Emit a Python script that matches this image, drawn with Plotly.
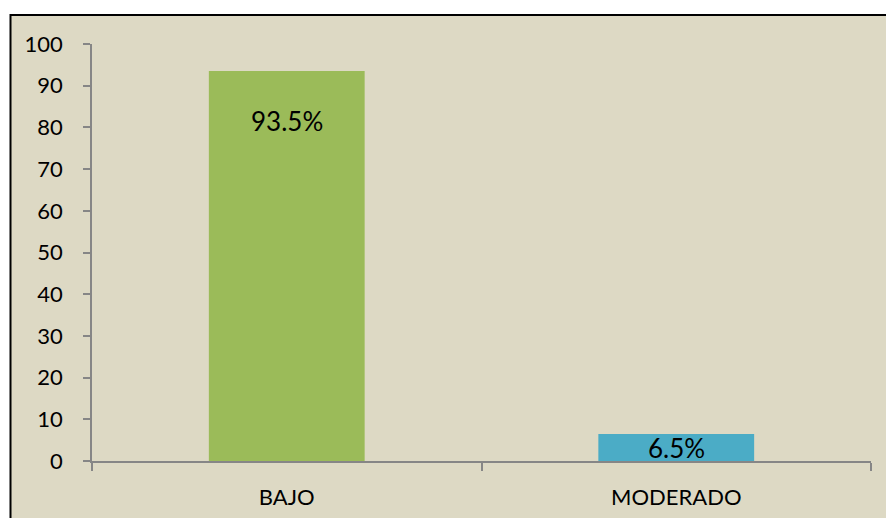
import plotly.graph_objects as go

categories = ["BAJO", "MODERADO"]
values = [93.5, 6.5]
labels = ["93.5%", "6.5%"]
bar_colors = ["#9BBB59", "#4BACC6"]
y_ticks = [0, 10, 20, 30, 40, 50, 60, 70, 80, 90, 100]

# styling: vertical pixel offset of each value label from the bar top
label_shift_px = [-50, -14]

W, H = 886, 518
ml, mr, mt, mb = 92, 15, 44, 57
pw, ph = W - ml - mr, H - mt - mb

fig = go.Figure()
fig.add_trace(go.Bar(
    x=categories, y=values,
    marker=dict(color=bar_colors, line=dict(width=0)),
    width=0.4, hoverinfo="skip",
))

for c, v, t, s in zip(categories, values, labels, label_shift_px):
    fig.add_annotation(x=c, y=v, text=t, showarrow=False, yshift=s,
                       yanchor="middle", xanchor="center",
                       font=dict(family="Lato", size=26, color="black"))

# beige chart background with black frame (extends past right/bottom edges)
def px_to_paper_x(px):
    return (px - ml) / pw

def px_to_paper_y(py):
    return (H - mb - py) / ph

fig.add_shape(type="rect", xref="paper", yref="paper", layer="below",
              x0=px_to_paper_x(10.5), x1=px_to_paper_x(W + 10),
              y0=px_to_paper_y(H + 10), y1=px_to_paper_y(15),
              fillcolor="#DDD9C4", line=dict(color="black", width=2))

fig.update_layout(
    width=W, height=H,
    margin=dict(l=ml, r=mr, t=mt, b=mb),
    paper_bgcolor="white", plot_bgcolor="rgba(0,0,0,0)",
    showlegend=False,
    font=dict(family="Lato", size=22, color="black"),
    xaxis=dict(
        type="category", tickson="boundaries", ticks="outside", ticklen=8,
        tickcolor="#868686", tickwidth=1.5,
        showline=True, linecolor="#868686", linewidth=1.5,
        showgrid=False, zeroline=False, automargin=False,
        tickfont=dict(family="Lato", size=22, color="black"),
        ticklabelstandoff=16, range=[-0.5, 1.5],
    ),
    yaxis=dict(
        range=[0, 100], tickvals=y_ticks, ticks="outside", ticklen=7,
        tickcolor="#868686", tickwidth=1.5,
        showline=True, linecolor="#868686", linewidth=1.5,
        showgrid=False, zeroline=False, automargin=False,
        tickfont=dict(family="Lato", size=22, color="black"),
        ticklabelstandoff=16,
    ),
)

fig.write_html("out.html", config={"displayModeBar": False},
               post_script="document.body.style.margin='0';document.body.style.overflow='hidden';")
